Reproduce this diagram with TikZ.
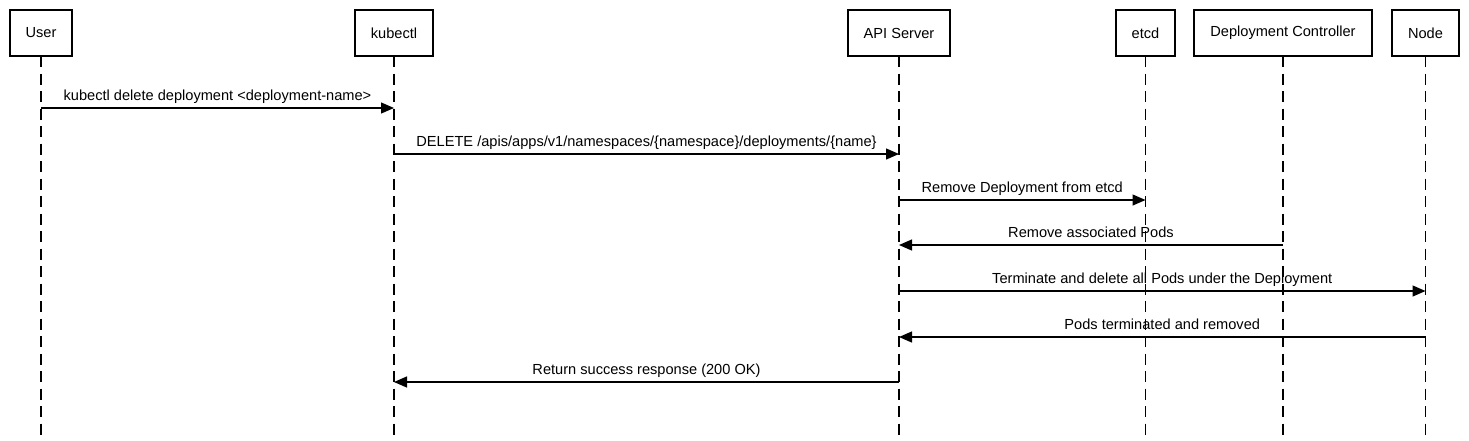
\documentclass[tikz,border=0pt]{standalone}
\usepackage{fontspec}
\setmainfont{Liberation Sans}
\usetikzlibrary{arrows.meta,positioning}
\tikzset{
  actor/.style={draw=black, line width=2pt, fill=white, minimum height=46pt, inner xsep=16pt, font=\fontsize{14.6}{17}\selectfont},
  lifeline/.style={draw=black, line width=1.2pt, dash pattern=on 11pt off 6.5pt},
  msg/.style={-{Triangle[length=13pt,width=11pt]}, line width=1.3pt},
  msglabel/.style={font=\fontsize{14.6}{17}\selectfont, anchor=base, yshift=8pt, inner sep=0pt}
}

\begin{document}
\begin{tikzpicture}[x=1pt, y=-1pt]
\useasboundingbox (0,0) rectangle (1469,440);
% actors and lifelines
\foreach \n/\x/\t in {user/41/User, kubectl/394/kubectl, api/899/API Server, etcd/1145.5/etcd, ctrl/1283/Deployment Controller, node/1425.5/Node} {
  \coordinate (\n-end) at (\x,440);
  \draw[lifeline] (\x,56) -- (\n-end);
  \node[actor] (\n) at (\x,33) {\t};
}
% message rows
\foreach \i/\y in {1/108, 2/154, 3/200, 4/245, 5/291, 6/337, 7/382}
  \coordinate (m\i) at (0,\y);
% messages
\draw[msg] (user |- m1) -- (kubectl |- m1) node[msglabel, midway] {kubectl delete deployment <deployment-name>};
\draw[msg] (kubectl |- m2) -- (api |- m2) node[msglabel, midway] {DELETE /apis/apps/v1/namespaces/\{namespace\}/deployments/\{name\}};
\draw[msg] (api |- m3) -- (etcd |- m3) node[msglabel, midway] {Remove Deployment from etcd};
\draw[msg] (ctrl |- m4) -- (api |- m4) node[msglabel, midway] {Remove associated Pods};
\draw[msg] (api |- m5) -- (node |- m5) node[msglabel, midway] {Terminate and delete all Pods under the Deployment};
\draw[msg] (node |- m6) -- (api |- m6) node[msglabel, midway] {Pods terminated and removed};
\draw[msg] (api |- m7) -- (kubectl |- m7) node[msglabel, midway] {Return success response (200 OK)};
\end{tikzpicture}
\end{document}
